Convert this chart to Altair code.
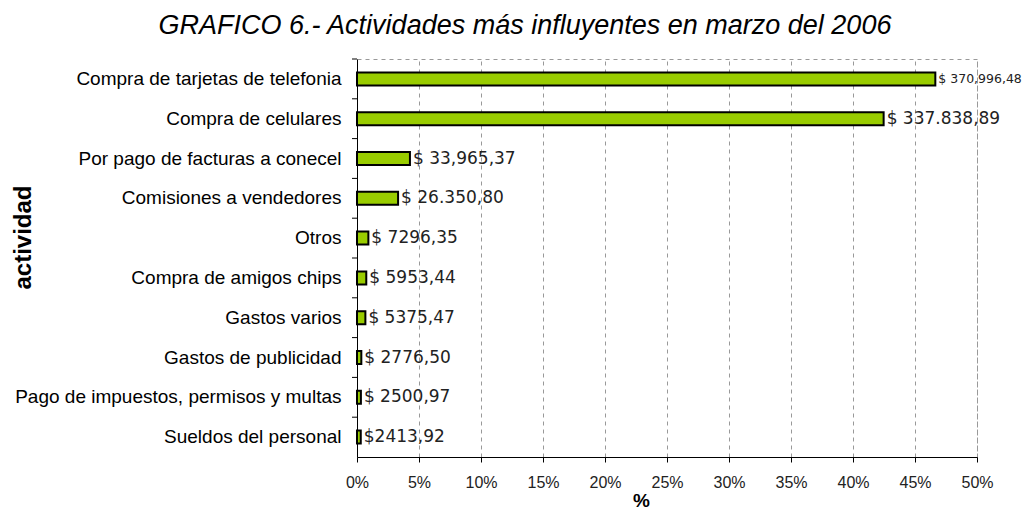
import altair as alt
import pandas as pd

categorias = [
    "Compra de tarjetas de telefonia",
    "Compra de celulares",
    "Por pago de facturas a conecel",
    "Comisiones a vendedores\u00a0",
    "Otros",
    "Compra de amigos chips",
    "Gastos varios",
    "Gastos de publicidad",
    "Pago de impuestos, permisos y multas",
    "Sueldos del personal\u00a0",
]
montos = [370996.48, 337838.89, 33965.37, 26350.80, 7296.35, 5953.44,
          5375.47, 2776.50, 2500.97, 2413.92]
etiquetas = ["$ 370,996,48", "$ 337.838,89", "$ 33,965,37", "$ 26.350,80",
             "$ 7296,35", "$ 5953,44", "$ 5375,47", "$ 2776,50",
             "$ 2500,97", "$2413,92"]
ticks_x = [0, 0.05, 0.10, 0.15, 0.20, 0.25, 0.30, 0.35, 0.40, 0.45, 0.50]

df = pd.DataFrame({"actividad": categorias, "monto": montos, "etiqueta": etiquetas})

y_axis = alt.Axis(
    ticks=False, domainColor="black", domainWidth=1,
    labelFont="Liberation Sans", labelFontSize=19, labelColor="black",
    labelPadding=16, labelLimit=500,
    titleFont="Liberation Sans", titleFontSize=24, titleFontWeight="bold",
    titleColor="black", titleX=-322, titleY=178, titleAngle=-90,
    titleBaseline="bottom", titleAlign="center",
)
x_axis = alt.Axis(
    values=ticks_x, format="%", grid=True, gridDash=[4, 4], gridColor="#999",
    domainColor="black", tickColor="black", tickSize=5,
    labelFont="Liberation Sans", labelFontSize=16, labelColor="#222",
    labelPadding=12, labelFlush=False, labelOverlap=False,
    titleFont="Liberation Sans", titleFontSize=19, titleFontWeight="bold",
    titleColor="black", titleX=284, titleY=49, titleBaseline="alphabetic",
    titleAlign="center",
)

y_enc = alt.Y("actividad:N", sort=categorias,
              scale=alt.Scale(paddingInner=0, paddingOuter=0),
              axis=y_axis, title="actividad")
x_enc = alt.X("pct:Q", scale=alt.Scale(domain=[0, 0.5], nice=False),
              axis=x_axis, title="%")

base = alt.Chart(df).transform_joinaggregate(
    total="sum(monto)"
).transform_calculate(pct="datum.monto / datum.total")

bars = base.mark_bar(size=13, color="#99CC00", stroke="black",
                     strokeWidth=2).encode(x=x_enc, y=y_enc)

text = base.mark_text(align="left", baseline="middle", dx=3,
                      font="DejaVu Sans", color="#222").encode(
    x=x_enc, y=y_enc, text="etiqueta:N",
    size=alt.condition("datum.pct > 0.45", alt.value(12.5), alt.value(17)))

tick_rules = alt.Chart(df).mark_rule(color="black").encode(
    y=alt.Y("actividad:N", sort=categorias, bandPosition=0,
            scale=alt.Scale(paddingInner=0, paddingOuter=0),
            axis=y_axis, title="actividad"),
    x=alt.value(-5), x2=alt.value(0))

chart = alt.layer(bars, text, tick_rules).properties(
    width=620, height=398,
    autosize=alt.AutoSizeParams(type="none"),
    padding={"left": 349, "top": 51, "right": 45, "bottom": 55},
    title=alt.TitleParams(
        "GRAFICO 6.- Actividades más influyentes en marzo del 2006",
        font="Liberation Sans", fontSize=27, fontStyle="italic",
        fontWeight="normal", color="black", anchor="middle", dx=-142,
        offset=19),
).configure_view(stroke="#999", strokeDash=[4, 4], strokeWidth=1)

chart.save("out.html", embed_options={"renderer": "svg", "actions": False})
